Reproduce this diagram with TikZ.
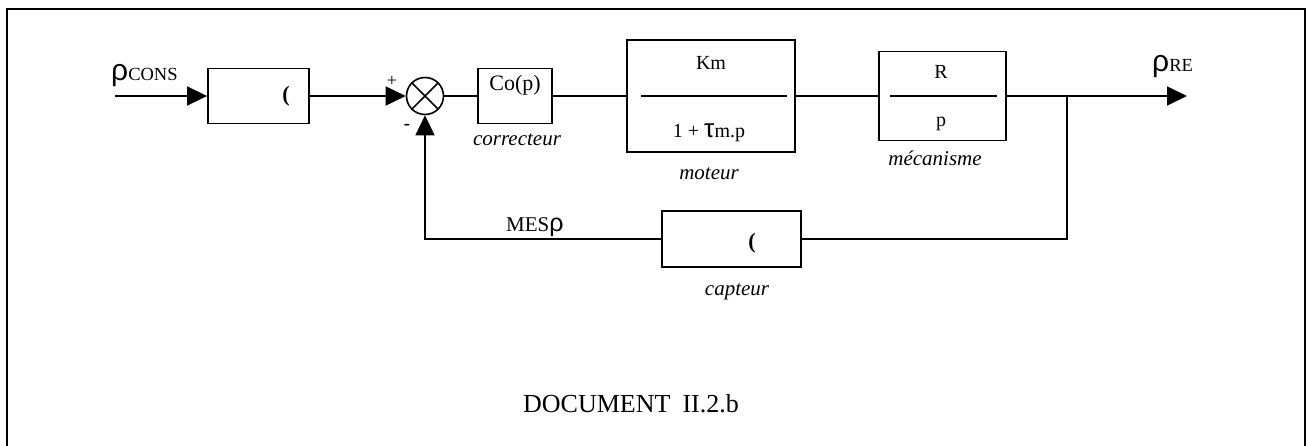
\documentclass[tikz,border=0pt]{standalone}
\usepackage{fontspec}
\setmainfont{Liberation Serif}
\newfontfamily\symf{Liberation Sans}
\usetikzlibrary{arrows.meta}
\tikzset{
  blk/.style={draw, line width=1.8pt, inner sep=0pt, font=\fontsize{21}{25}\selectfont},
  lbl/.style={inner sep=0pt, font=\fontsize{21}{25}\selectfont\itshape},
  txt/.style={inner sep=0pt, font=\fontsize{21}{25}\selectfont},
  wire/.style={line width=1.6pt},
  arr/.style={line width=1.6pt, -{Triangle[length=20pt,width=19pt]}},
}
\begin{document}
\begin{tikzpicture}[x=1pt,y=-1pt]
\useasboundingbox (0,0) rectangle (1307,445);
\draw[line width=2.5pt] (7,446) -- (7,9) -- (1305,9) -- (1305,446);

% blocks
\node[blk, minimum width=101pt, minimum height=55pt] (b1) at (258.5,96) {};
\node[txt, font=\fontsize{22}{25}\selectfont\bfseries] (b1g) at (286,96) {(};
\node[draw, circle, line width=1.6pt, minimum size=37pt, inner sep=0pt] (sum) at (425,96) {};
\draw[wire] (sum.north east) -- (sum.south west);
\draw[wire] (sum.north west) -- (sum.south east);
\node[blk, minimum width=74pt, minimum height=55pt] (co) at (515,96) {};
\node[txt, font=\fontsize{22}{25}\selectfont] (cot) at (515,85) {Co(p)};
\node[blk, minimum width=168pt, minimum height=112pt] (km) at (711,96) {};
\node[blk, minimum width=127pt, minimum height=89pt] (r) at (942.5,96) {};
\node[blk, minimum width=139pt, minimum height=56pt] (cap) at (731.5,239) {};
\node[txt, font=\fontsize{22}{25}\selectfont\bfseries] (capg) at (752,243) {(};

% fraction contents
\node[txt, font=\fontsize{20}{24}\selectfont] (kmn) at (711,63) {Km};
\draw[line width=1.8pt] ([xshift=15pt]km.west) -- ([xshift=-9pt]km.east);
\node[txt, font=\fontsize{20}{24}\selectfont, anchor=base] (kmd) at (709,137) {1 + {\symf\fontsize{26}{26}\selectfont τ}m.p};
\node[txt, font=\fontsize{20}{24}\selectfont] (rn) at (941,72) {R};
\draw[line width=1.8pt] ([xshift=12pt]r.west) -- ([xshift=-10pt]r.east);
\node[txt, font=\fontsize{20}{24}\selectfont, anchor=base] (rd) at (941,126) {p};

% labels
\node[lbl] (lco) at (517,140) {correcteur};
\node[lbl] (lkm) at (709,174) {moteur};
\node[lbl] (lr) at (935,158) {mécanisme};
\node[lbl] (lcap) at (737,292) {capteur};
\node[txt, anchor=base west] (mes) at (506,231) {MES{\symf\fontsize{25}{25}\selectfont ρ}};
\node[txt, anchor=base west] (cons) at (111,80) {{\symf\fontsize{30}{30}\selectfont ρ}{\fontsize{18.5}{20}\selectfont CONS}};
\node[txt, anchor=base west] (re) at (1152,71) {{\symf\fontsize{30}{30}\selectfont ρ}{\fontsize{18.5}{20}\selectfont RE}};
\node[txt, font=\fontsize{18}{20}\selectfont] (plus) at (392,81) {+};
\node[txt, font=\fontsize{20}{20}\selectfont\symf] (minus) at (407,127) {-};
\node[txt, font=\fontsize{26}{30}\selectfont, anchor=base west] (doc) at (523,412) {DOCUMENT\hspace{12pt}II.2.b};

% connectors
\coordinate (in) at (115,96);
\coordinate (out) at (1187,96);
\coordinate (br) at (1067,96);
\draw[arr] (in) -- (b1.west);
\draw[arr] (b1.east) -- (sum.west);
\draw[wire] (sum.east) -- (co.west);
\draw[wire] (co.east) -- (km.west);
\draw[wire] (km.east) -- (r.west);
\draw[arr] (r.east) -- (out);
\draw[wire] (br) |- (cap.east);
\draw[arr] (cap.west) -| (sum.south);
\end{tikzpicture}
\end{document}
